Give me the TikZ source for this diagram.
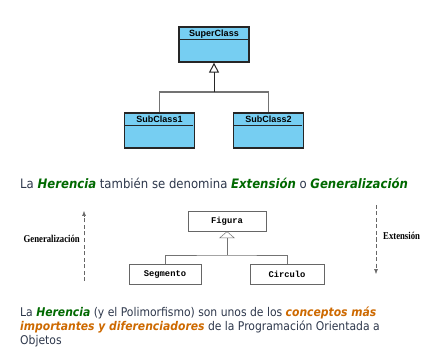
\documentclass[tikz,border=0pt]{standalone}
\usepackage{fontspec}
\setmainfont{DejaVu Sans Condensed}
\newfontfamily\umlfont{Liberation Sans}
\newfontfamily\codefont{Liberation Mono}
\newfontfamily\serifbold{Liberation Serif}
\usetikzlibrary{arrows.meta}

\definecolor{slidetext}{RGB}{45,55,75}
\definecolor{keygreen}{RGB}{0,105,0}
\definecolor{keyorange}{RGB}{205,105,0}
\definecolor{umlblue}{RGB}{118,206,242}

\newcommand{\kw}[1]{\textcolor{keygreen}{\textbf{\textit{#1}}}}
\newcommand{\ko}[1]{\textcolor{keyorange}{\textbf{\textit{#1}}}}
\newcommand{\narrow}[1]{\scalebox{0.83}[1]{#1}}

\tikzset{
  uml/.style={rectangle,draw=black!85,line width=1.3pt,fill=umlblue,minimum width=70pt,minimum height=35pt,inner sep=0pt},
  umltitle/.style={anchor=north,inner sep=3pt,font=\umlfont\bfseries\fontsize{9}{10}\selectfont},
  umllink/.style={draw=black!55,line width=1.2pt},
  plainbox/.style={rectangle,draw=black!60,line width=0.5pt,inner sep=0pt,minimum height=20pt,font=\codefont\bfseries\fontsize{8.8}{10}\selectfont},
  plainlink/.style={draw=black!55,line width=0.5pt},
  side/.style={draw=black!60,line width=0.5pt,dash pattern=on 4pt off 2.5pt},
  sidelabel/.style={inner sep=0pt,font=\serifbold\bfseries\fontsize{10.5}{12}\selectfont},
  slide/.style={inner sep=0pt,text=slidetext,font=\fontsize{12}{14}\selectfont}
}

\begin{document}
\begin{tikzpicture}[x=1pt,y=-1pt]
  \useasboundingbox (0,0) rectangle (422,352);

  % class diagram
  \node[uml,label={[umltitle]north:SuperClass}] (super) at (214,44.5) {};
  \node[uml,label={[umltitle]north:SubClass1}] (sub1) at (159.5,130.5) {};
  \node[uml,label={[umltitle]north:SubClass2}] (sub2) at (268.5,130.5) {};
  \draw[line width=1.1pt,black!85] (super.north west) ++(0,13) -- ++(70,0);
  \draw[line width=1.1pt,black!85] (sub1.north west) ++(0,13) -- ++(69,0);
  \draw[line width=1.1pt,black!85] (sub2.north west) ++(0,13) -- ++(69,0);
  \coordinate (joint) at (214,92);
  \draw[umllink] (sub1.north) |- (joint) -| (sub2.north);
  \draw[line width=1pt,black!85,-{Triangle[open,width=10pt,length=10pt]}] (joint) -- (super.south);

  \node[slide,anchor=base west,font=\fontsize{13}{15}\selectfont] (line) at (20,189)
    {La \kw{Herencia} también se denomina \kw{Extensión} o \kw{Generalización}};

  % figure example
  \node[plainbox,minimum width=78pt] (figura) at (227,221) {Figura};
  \node[plainbox,minimum width=72pt] (segmento) at (165,274.5) {Segmento};
  \node[plainbox,minimum width=74pt] (circulo) at (287,274.5) {Circulo};
  \coordinate (joint2) at (227,255);
  \draw[plainlink] (segmento.north) |- (joint2) -| (circulo.north);
  \draw[plainlink,-{Triangle[open,width=16pt,length=7pt]}] (joint2) -- (figura.south);

  \coordinate (genlow) at (84,281);
  \coordinate (genhigh) at (84,211);
  \coordinate (exthigh) at (376,205);
  \coordinate (extlow) at (376,274);
  \draw[side,-{Latex[length=5pt,width=4pt]}] (genlow) -- (genhigh);
  \draw[side,-{Latex[length=5pt,width=4pt]}] (exthigh) -- (extlow);
  \node[sidelabel,anchor=east] (gen) at (80,238.5) {\narrow{Generalización}};
  \node[sidelabel,anchor=west] (ext) at (383,236) {\narrow{Extensión}};

  \node[slide,anchor=north west,align=left] (summary) at (20,307)
    {La \kw{Herencia} (y el Polimorfismo) son unos de los \ko{conceptos más}\\
     \ko{importantes y diferenciadores} de la Programación Orientada a\\
     Objetos};
\end{tikzpicture}
\end{document}
